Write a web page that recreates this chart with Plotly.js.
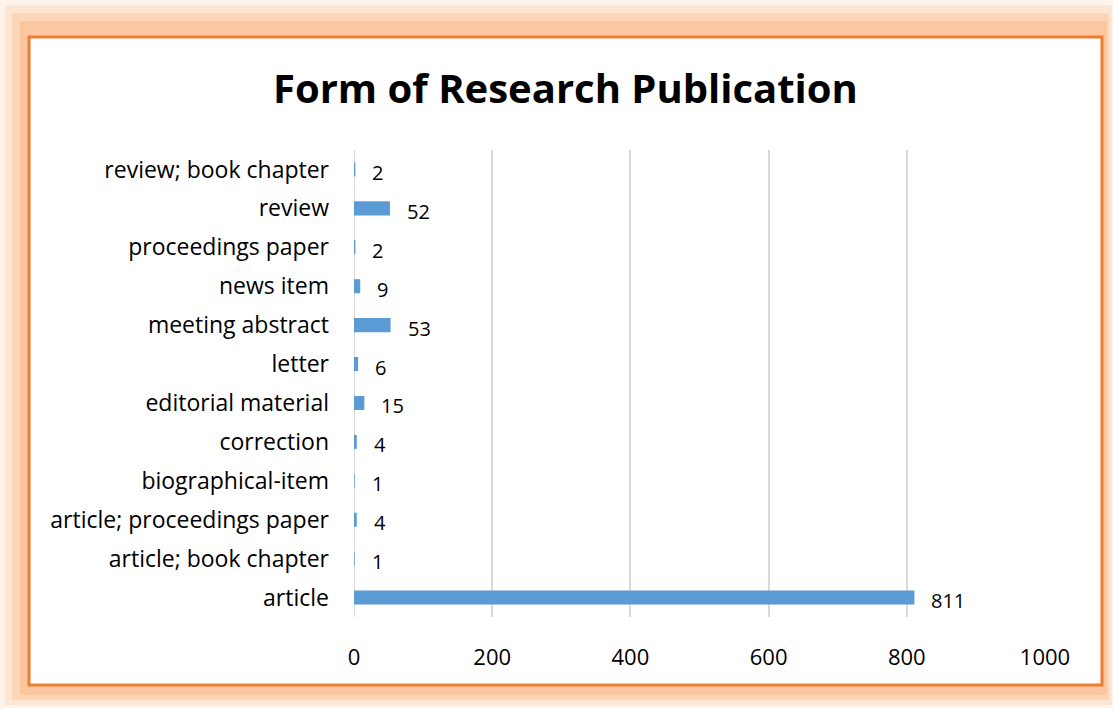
<!DOCTYPE html>
<html>
<head>
<meta charset="utf-8">
<script src="https://cdn.plot.ly/plotly-3.0.1.min.js"></script>
<style>html,body{margin:0;padding:0;background:#fff;}#chart{width:1113px;height:708px;}</style>
</head>
<body>
<div id="chart"></div>
<script>
const categories = ["article", "article; book chapter", "article; proceedings paper", "biographical-item", "correction", "editorial material", "letter", "meeting abstract", "news item", "proceedings paper", "review", "review; book chapter"];
const counts = [811, 1, 4, 1, 4, 15, 6, 53, 9, 2, 52, 2];
const xTicks = [0, 200, 400, 600, 800, 1000];
const chartTitle = "Form of Research Publication";

const W = 1113, H = 708;
const M = {l: 354, r: 68, t: 150, b: 91};
const pw = W - M.l - M.r, ph = H - M.t - M.b;
function px(x) { return (x - M.l) / pw; }
function py(y) { return (H - M.b - y) / ph; }
function rect(x0, y0, x1, y1, fill, line) {
  return {type: 'rect', xref: 'paper', yref: 'paper', layer: 'below',
    x0: px(x0), x1: px(x1), y0: py(y1), y1: py(y0),
    fillcolor: fill, line: line || {width: 0}};
}

const shapes = [
  rect(0, 0, 1113, 708, '#FEF4EC'),
  rect(5, 5, 1112, 705, '#FEE6D4'),
  rect(12, 13, 1109, 700, '#FDD6B8'),
  rect(20, 21, 1107, 695, '#FCC7A0'),
  rect(29, 37, 1102, 685, '#FFFFFF', {color: '#ED7D31', width: 3})
];

const font = "'Open Sans', 'Noto Sans', sans-serif";

const annotations = categories.map((c, i) => ({
  x: counts[i], y: c, xref: 'x', yref: 'y', text: String(counts[i]),
  showarrow: false, xanchor: 'left', yanchor: 'middle', xshift: 15, yshift: -3,
  font: {family: font, size: 20, color: '#000'}
}));

const data = [{
  type: 'bar', orientation: 'h', y: categories, x: counts,
  marker: {color: '#5B9BD5'}, hoverinfo: 'x+y'
}];

const layout = {
  width: W, height: H, margin: M,
  paper_bgcolor: '#FFFFFF', plot_bgcolor: 'rgba(0,0,0,0)',
  title: {text: '<b>' + chartTitle + '</b>', x: 0.508, xref: 'container', xanchor: 'center', y: 0.875, yanchor: 'middle', yref: 'container',
    font: {family: font, size: 40, color: '#000'}},
  bargap: 0.64,
  showlegend: false,
  xaxis: {range: [0, 1000], tickvals: xTicks, ticktext: xTicks.map(String), showgrid: true, gridcolor: '#D9D9D9', gridwidth: 2,
    zeroline: false, showline: false, ticks: '', ticklabelstandoff: 25,
    tickfont: {family: font, size: 22, color: '#000'}, fixedrange: true},
  yaxis: {type: 'category', categoryorder: 'array', categoryarray: categories, showgrid: false, zeroline: false,
    showline: false, ticks: '', ticklabelstandoff: 24, automargin: false,
    tickfont: {family: font, size: 23, color: '#000'}, fixedrange: true},
  shapes: shapes.concat([{type: 'line', xref: 'x', yref: 'paper', x0: 0, x1: 0, y0: 0, y1: 1, layer: 'below', line: {color: '#D9D9D9', width: 2}}]),
  annotations: annotations
};

Plotly.newPlot('chart', data, layout, {displayModeBar: false, staticPlot: true});
</script>
</body>
</html>
